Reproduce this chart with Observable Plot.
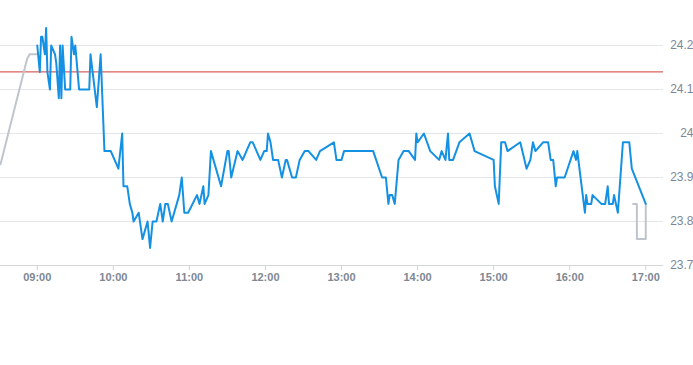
<!DOCTYPE html>
<html>
<head>
<meta charset="utf-8">
<script src="https://cdn.jsdelivr.net/npm/d3@7"></script>
<script src="https://cdn.jsdelivr.net/npm/@observablehq/plot@0.6"></script>
<style>
  html, body { margin: 0; padding: 0; background: #fff; }
  #chart svg { display: block; font-family: "Liberation Sans", Arial, sans-serif; }
</style>
</head>
<body>
<div id="chart"></div>
<script>
// ---- data ----
const prevClose = 24.14;

const preTimes  = ["08:31", "08:52", "08:54", "09:00"];
const preValues = [23.93, 24.17, 24.18, 24.18];

const tradeTimes = [
  "09:00","09:02","09:03","09:04","09:06","09:07","09:08","09:10","09:11","09:14",
  "09:15","09:17","09:18","09:19","09:20","09:22","09:26","09:27","09:29","09:30",
  "09:33","09:41","09:42","09:47","09:50","09:53","09:58","10:04","10:07","10:08",
  "10:11","10:13","10:15","10:16","10:20","10:23","10:27","10:29","10:31","10:34",
  "10:37","10:39","10:41","10:43","10:46","10:52","10:54","10:56","10:59","11:06",
  "11:08","11:11","11:12","11:15","11:17","11:25","11:30","11:31","11:33","11:38",
  "11:42","11:48","11:50","11:56","11:59","12:01","12:02","12:04","12:06","12:10",
  "12:13","12:16","12:17","12:21","12:24","12:27","12:31","12:34","12:40","12:43",
  "12:54","12:56","13:00","13:02","13:25","13:32","13:35","13:37","13:38","13:40",
  "13:42","13:45","13:49","13:53","13:58","13:59","14:00","14:05","14:10","14:17",
  "14:19","14:22","14:24","14:25","14:28","14:33","14:41","14:45","15:00","15:01",
  "15:04","15:06","15:09","15:11","15:21","15:26","15:29","15:31","15:33","15:39",
  "15:43","15:45","15:47","15:49","15:50","15:56","16:03","16:05","16:06","16:12",
  "16:13","16:14","16:17","16:18","16:25","16:28","16:30","16:31","16:34","16:35",
  "16:38","16:42","16:47","16:49","17:00"
];
const tradeValues = [
  24.20,24.14,24.22,24.22,24.18,24.24,24.14,24.10,24.20,24.18,
  24.16,24.08,24.20,24.08,24.20,24.10,24.10,24.22,24.18,24.20,
  24.10,24.10,24.18,24.06,24.18,23.96,23.96,23.92,24.00,23.88,
  23.88,23.84,23.82,23.80,23.82,23.76,23.80,23.74,23.80,23.80,
  23.84,23.80,23.84,23.84,23.80,23.86,23.90,23.82,23.82,23.86,
  23.84,23.88,23.84,23.86,23.96,23.88,23.96,23.96,23.90,23.96,
  23.94,23.98,23.98,23.94,23.96,23.96,24.00,23.98,23.94,23.94,
  23.90,23.94,23.94,23.90,23.90,23.94,23.96,23.96,23.94,23.96,
  23.98,23.94,23.94,23.96,23.96,23.90,23.90,23.84,23.86,23.86,
  23.84,23.94,23.96,23.96,23.94,24.00,23.98,24.00,23.96,23.94,
  23.96,23.94,24.00,23.94,23.94,23.98,24.00,23.96,23.94,23.88,
  23.84,23.98,23.98,23.96,23.98,23.92,23.94,23.98,23.96,23.98,
  23.98,23.94,23.94,23.88,23.90,23.90,23.96,23.94,23.96,23.82,
  23.86,23.84,23.84,23.86,23.84,23.84,23.88,23.84,23.84,23.86,
  23.82,23.98,23.98,23.92,23.84
];

const postTimes  = ["16:50", "16:53", "16:53", "17:00", "17:00"];
const postValues = [23.84, 23.84, 23.76, 23.76, 23.84];

const yTicks = [23.7, 23.8, 23.9, 24.0, 24.1, 24.2];
const xTickLabels = ["09:00","10:00","11:00","12:00","13:00","14:00","15:00","16:00","17:00"];
const xDomain = ["08:31", "17:14"];
const yDomain = [23.7, 24.3];

// ---- helpers ----
const t = s => { const [h, m] = s.split(":").map(Number); return new Date(Date.UTC(2024, 0, 2, h, m)); };
const toRows = (times, values) => times.map((s, i) => ({time: t(s), value: values[i]}));

const pre = toRows(preTimes, preValues);
const trade = toRows(tradeTimes, tradeValues);
const post = toRows(postTimes, postValues);

const chart = Plot.plot({
  width: 693,
  height: 365,
  marginLeft: 0,
  marginRight: 30,
  marginTop: 1,
  marginBottom: 100,
  x: {type: "utc", domain: xDomain.map(t), label: null},
  y: {domain: yDomain, label: null},
  marks: [
    Plot.ruleY(yTicks, {stroke: "#e3e6ea", strokeWidth: 1}),
    Plot.ruleY([yTicks[0]], {stroke: "#d3d7dc", strokeWidth: 1}),
    Plot.ruleY([prevClose], {stroke: "#d23a35", strokeWidth: 1}),
    Plot.line(pre, {x: "time", y: "value", stroke: "#bfc5cd", strokeWidth: 2}),
    Plot.line(post, {x: "time", y: "value", stroke: "#bfc5cd", strokeWidth: 2}),
    Plot.line(trade, {x: "time", y: "value", stroke: "#1591e3", strokeWidth: 2, strokeLinejoin: "round"}),
    Plot.axisX({
      ticks: xTickLabels.map(t),
      tickFormat: d3.utcFormat("%H:%M"),
      tickSize: 5,
      tickPadding: 3,
      stroke: "#cfd3d8",
      fill: "#7d8894",
      fontSize: 11,
      fontWeight: "bold",
      label: null
    }),
    Plot.axisY({
      anchor: "right",
      ticks: yTicks,
      tickFormat: d => String(+d.toFixed(1)),
      tickSize: 0,
      textAnchor: "end",
      dx: 21,
      fill: "#7d8894",
      fontSize: 12,
      label: null
    })
  ]
});
document.getElementById("chart").appendChild(chart);
</script>
</body>
</html>
